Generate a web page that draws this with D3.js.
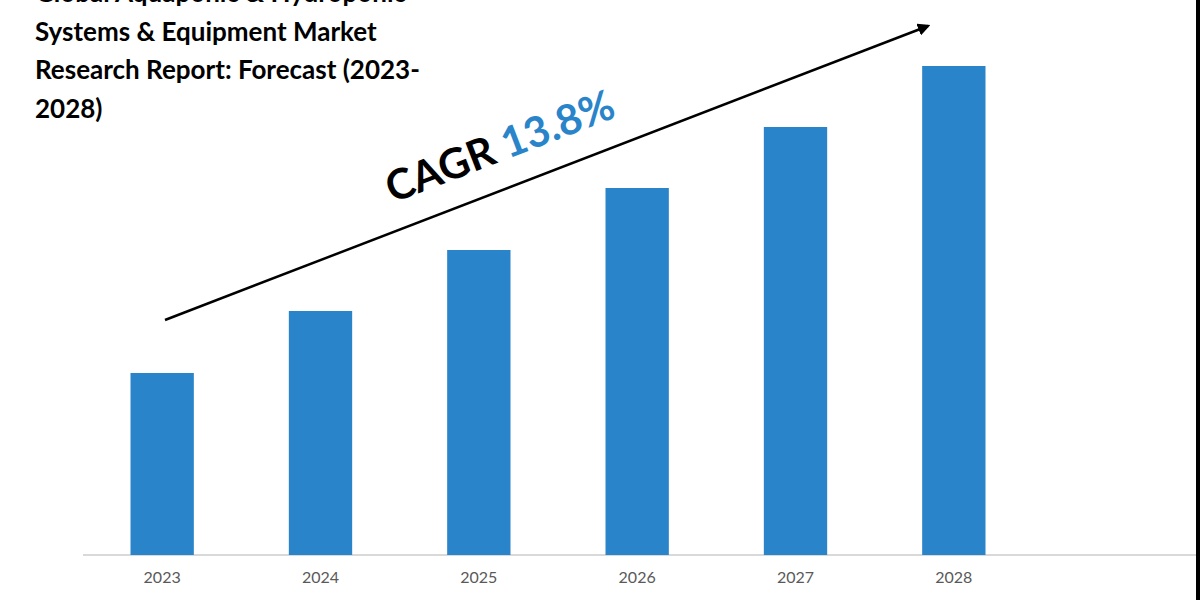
<!DOCTYPE html>
<html><head><meta charset="utf-8">
<script src="https://cdn.jsdelivr.net/npm/d3@7"></script>
<style>body{margin:0;background:#fff}</style>
</head><body><div id="chart"></div>
<script>
const years = ['2023', '2024', '2025', '2026', '2027', '2028'];
const values = [182, 244, 305, 367, 428, 489];
const titleLines = ['Global Aquaponic & Hydroponic', 'Systems & Equipment Market', 'Research Report: Forecast (2023-', '2028)'];

const W = 1200, H = 600, base = 555;
const svg = d3.select('#chart').append('svg').attr('width', W).attr('height', H);

const x = d3.scaleBand().domain(years).range([83, 1033]).paddingInner(0.6).paddingOuter(0.3);
const y = d3.scaleLinear().domain([0, 500]).range([base, base - 500]);

svg.append('line').attr('x1', 83).attr('x2', W).attr('y1', base).attr('y2', base)
  .attr('stroke', '#d9d9d9').attr('stroke-width', 2);

svg.selectAll('rect.bar').data(values).enter().append('rect')
  .attr('class', 'bar')
  .attr('x', (d, i) => x(years[i]))
  .attr('width', x.bandwidth())
  .attr('y', d => y(d))
  .attr('height', d => base - y(d))
  .attr('fill', '#2a84c9');

svg.selectAll('text.yr').data(years).enter().append('text')
  .attr('class', 'yr')
  .attr('x', d => x(d) + x.bandwidth() / 2)
  .attr('y', 583)
  .attr('text-anchor', 'middle')
  .attr('font-family', 'Lato, sans-serif')
  .attr('font-size', 16)
  .attr('fill', '#595959')
  .text(d => d);

svg.selectAll('text.title').data(titleLines).enter().append('text')
  .attr('class', 'title')
  .attr('x', 35)
  .attr('y', (d, i) => 2 + i * 38.5)
  .attr('font-family', 'Lato, sans-serif')
  .attr('font-weight', 'bold')
  .attr('font-size', 26)
  .attr('fill', '#000')
  .text(d => d);

// trend arrow
svg.append('defs').append('marker').attr('id', 'ah')
  .attr('viewBox', '0 0 10 10').attr('refX', 8).attr('refY', 5)
  .attr('markerWidth', 5).attr('markerHeight', 5).attr('orient', 'auto')
  .append('path').attr('d', 'M0,0L10,5L0,10z').attr('fill', '#000');
svg.append('line').attr('x1', 165).attr('y1', 320).attr('x2', 928).attr('y2', 26)
  .attr('stroke', '#000').attr('stroke-width', 2.5).attr('marker-end', 'url(#ah)');

const ang = Math.atan2(26 - 320, 928 - 165) * 180 / Math.PI;
const cagr = svg.append('text')
  .attr('transform', `translate(505,160) rotate(${ang})`)
  .attr('text-anchor', 'middle')
  .attr('font-family', 'Lato, sans-serif')
  .attr('font-weight', 'bold')
  .attr('font-size', 42);
cagr.append('tspan').attr('fill', '#000').text('CAGR ');
cagr.append('tspan').attr('fill', '#2a84c9').text('13.8%');

svg.append('rect').attr('x', W - 4).attr('y', 0).attr('width', 4).attr('height', H).attr('fill', '#000');
</script></body></html>
